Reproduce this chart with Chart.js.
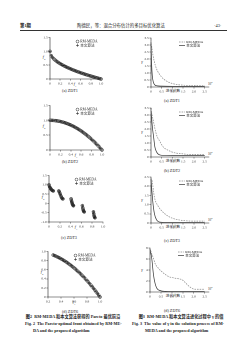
<!DOCTYPE html>
<html><head><meta charset="utf-8">
<script src="https://cdn.jsdelivr.net/npm/chart.js@4.4.1/dist/chart.umd.min.js"></script>
<style>
html,body{margin:0;padding:0;background:#fff;}
body{width:250px;height:354px;position:relative;overflow:hidden;font-family:"Liberation Serif","Noto Sans CJK SC",serif;color:#222;}
canvas.c{position:absolute;}
.t{position:absolute;white-space:nowrap;line-height:1;}
.m{transform:translate(-50%,-50%);}
.b{font-weight:bold;}
.i{font-style:italic;}
.rule{position:absolute;left:20px;top:30px;width:207px;height:0;border-top:0.6px solid #333;}
.j{text-align:justify;text-align-last:justify;}
</style></head><body>
<div class="t b" style="left:20px;top:23.5px;font-size:4.4px;">第1期</div>
<div class="t m" style="left:121px;top:26px;font-size:4.4px;">陶德民，等：混合分布估计的多目标优化算法</div>
<div class="t" style="left:214px;top:23.5px;font-size:4.4px;">·43·</div>
<div class="rule"></div>

<div class="t m" style="left:70px;top:91px;font-size:4.2px;">(a) ZDT1</div>
<div class="t m" style="left:70px;top:162px;font-size:4.2px;">(b) ZDT2</div>
<div class="t m" style="left:69px;top:238px;font-size:4.2px;">(c) ZDT3</div>
<div class="t m" style="left:70px;top:312px;font-size:4.2px;">(d) ZDT6</div>

<div class="t m" style="left:172px;top:101px;font-size:4.2px;">(a) ZDT1</div>
<div class="t m" style="left:172px;top:171px;font-size:4.2px;">(b) ZDT2</div>
<div class="t m" style="left:172px;top:241px;font-size:4.2px;">(c) ZDT3</div>
<div class="t m" style="left:172px;top:311px;font-size:4.2px;">(d) ZDT6</div>

<div class="t m i" style="left:44px;top:58px;font-size:4px;">f<sub style="font-size:2.6px">2</sub></div>
<div class="t m i" style="left:75px;top:85px;font-size:4px;">f<sub style="font-size:2.6px">1</sub></div>
<div class="t m i" style="left:44px;top:127px;font-size:4px;">f<sub style="font-size:2.6px">2</sub></div>
<div class="t m i" style="left:76px;top:156px;font-size:4px;">f<sub style="font-size:2.6px">1</sub></div>
<div class="t m i" style="left:43px;top:198px;font-size:4px;">f<sub style="font-size:2.6px">2</sub></div>
<div class="t m i" style="left:76px;top:228px;font-size:4px;">f<sub style="font-size:2.6px">1</sub></div>
<div class="t m i" style="left:42px;top:273px;font-size:4px;">f<sub style="font-size:2.6px">2</sub></div>
<div class="t m i" style="left:74px;top:303px;font-size:4px;">f<sub style="font-size:2.6px">1</sub></div>

<div class="t m i" style="left:142px;top:62px;font-size:4.2px;">γ</div>
<div class="t m i" style="left:142px;top:132px;font-size:4.2px;">γ</div>
<div class="t m i" style="left:142px;top:200px;font-size:4.2px;">γ</div>
<div class="t m i" style="left:142px;top:270px;font-size:4.2px;">γ</div>
<div class="t m" style="left:173px;top:92px;font-size:3.6px;">进化代数</div>
<div class="t m" style="left:173px;top:162px;font-size:3.6px;">进化代数</div>
<div class="t m" style="left:173px;top:228px;font-size:3.6px;">进化代数</div>
<div class="t m" style="left:173px;top:297px;font-size:3.6px;">进化代数</div>
<div class="t" style="left:208px;top:81px;font-size:3.2px;">10<sup style="font-size:2.2px">4</sup></div>
<div class="t" style="left:208px;top:151px;font-size:3.2px;">10<sup style="font-size:2.2px">4</sup></div>
<div class="t" style="left:208px;top:217px;font-size:3.2px;">10<sup style="font-size:2.2px">4</sup></div>
<div class="t" style="left:208px;top:286px;font-size:3.2px;">10<sup style="font-size:2.2px">4</sup></div>

<div class="t m b" style="left:73px;top:317px;font-size:4.2px;">图2&nbsp; RM-MEDA 和本文算法获得的 Pareto 最优前沿</div>
<div class="t b j" style="left:25px;top:322px;width:95px;font-size:4.2px;">Fig. 2&nbsp; The Pareto-optimal front obtained by RM-ME-</div>
<div class="t b" style="left:33px;top:329px;font-size:4.2px;">DA and the proposed algorithm</div>
<div class="t m b" style="left:181px;top:317px;font-size:4.2px;">图3&nbsp; RM-MEDA 和本文算法进化过程中 γ 的值</div>
<div class="t b j" style="left:132px;top:322px;width:92px;font-size:4.2px;">Fig. 3&nbsp; The value of γ in the solution process of RM-</div>
<div class="t b" style="left:145px;top:329px;font-size:4.2px;">MEDA and the proposed algorithm</div>

<script>
// ---------- data ----------
// left column: Pareto fronts (f1, f2)
const zdt1F1 = [0,0.025,0.05,0.075,0.1,0.125,0.15,0.175,0.2,0.225,0.25,0.275,0.3,0.325,0.35,0.375,0.4,0.425,0.45,0.475,0.5,0.525,0.55,0.575,0.6,0.625,0.65,0.675,0.7,0.725,0.75,0.775,0.8,0.825,0.85,0.875,0.9,0.925,0.95,0.975,1.0];
const zdt1RmF2 = [1.000,0.842,0.776,0.726,0.684,0.646,0.613,0.582,0.553,0.526,0.500,0.476,0.452,0.430,0.408,0.388,0.368,0.348,0.329,0.311,0.293,0.275,0.258,0.242,0.225,0.209,0.194,0.178,0.163,0.149,0.134,0.120,0.106,0.092,0.078,0.065,0.051,0.038,0.025,0.013,0.000];
const zdt1OursF2 = [1.002,0.845,0.774,0.728,0.682,0.648,0.611,0.584,0.551,0.528,0.498,0.478,0.450,0.432,0.406,0.390,0.366,0.350,0.327,0.313,0.291,0.277,0.256,0.244,0.223,0.211,0.192,0.180,0.161,0.151,0.132,0.122,0.104,0.094,0.076,0.067,0.049,0.040,0.023,0.015,0.002];

const zdt2F1 = [0,0.025,0.05,0.075,0.1,0.125,0.15,0.175,0.2,0.225,0.25,0.275,0.3,0.325,0.35,0.375,0.4,0.425,0.45,0.475,0.5,0.525,0.55,0.575,0.6,0.625,0.65,0.675,0.7,0.725,0.75,0.775,0.8,0.825,0.85,0.875,0.9,0.925,0.95,0.975,1.0];
const zdt2RmF2 = [1.000,0.999,0.998,0.994,0.990,0.984,0.978,0.969,0.960,0.949,0.938,0.924,0.910,0.894,0.878,0.859,0.840,0.819,0.798,0.774,0.750,0.724,0.698,0.669,0.640,0.609,0.578,0.544,0.510,0.474,0.438,0.399,0.360,0.319,0.278,0.234,0.190,0.144,0.098,0.049,0.000];
const zdt2OursF2 = [1.002,1.000,0.996,0.995,0.988,0.985,0.976,0.970,0.958,0.950,0.936,0.925,0.908,0.895,0.876,0.860,0.838,0.820,0.796,0.775,0.748,0.725,0.696,0.670,0.638,0.610,0.576,0.545,0.508,0.475,0.436,0.400,0.358,0.320,0.276,0.235,0.188,0.145,0.096,0.050,0.002];

const zdt3F1 = [0,0.01,0.02,0.03,0.04,0.05,0.06,0.07,0.08,0.182,0.19,0.2,0.21,0.22,0.23,0.24,0.25,0.258,0.409,0.415,0.42,0.425,0.43,0.435,0.44,0.45,0.454,0.618,0.625,0.63,0.635,0.64,0.645,0.653,0.823,0.828,0.834,0.84,0.846,0.852];
const zdt3RmF2 = [1.000,0.897,0.847,0.803,0.762,0.726,0.698,0.679,0.670,0.671,0.623,0.553,0.477,0.402,0.334,0.282,0.250,0.242,0.246,0.168,0.105,0.048,-0.004,-0.047,-0.082,-0.121,-0.124,-0.117,-0.232,-0.304,-0.363,-0.409,-0.440,-0.458,-0.451,-0.548,-0.644,-0.716,-0.759,-0.773];
const zdt3OursF2 = [1.004,0.900,0.844,0.806,0.759,0.729,0.695,0.682,0.667,0.674,0.620,0.556,0.474,0.405,0.331,0.285,0.247,0.245,0.249,0.165,0.108,0.045,-0.001,-0.050,-0.079,-0.124,-0.121,-0.114,-0.235,-0.301,-0.366,-0.406,-0.443,-0.455,-0.448,-0.551,-0.641,-0.719,-0.756,-0.776];

const zdt6F1 = [0.28,0.30,0.32,0.34,0.36,0.38,0.40,0.42,0.44,0.46,0.48,0.50,0.52,0.54,0.56,0.58,0.60,0.62,0.64,0.66,0.68,0.70,0.72,0.74,0.76,0.78,0.80,0.82,0.84,0.86,0.88,0.90,0.92,0.94,0.96,0.98,1.00];
const zdt6RmF2 = [0.922,0.910,0.898,0.884,0.870,0.856,0.840,0.824,0.806,0.788,0.770,0.750,0.730,0.708,0.686,0.664,0.640,0.616,0.590,0.564,0.538,0.510,0.482,0.452,0.422,0.392,0.360,0.328,0.294,0.260,0.226,0.190,0.154,0.116,0.078,0.040,0.000];
const zdt6OursF2 = [0.924,0.908,0.900,0.882,0.872,0.854,0.842,0.822,0.808,0.786,0.772,0.748,0.732,0.706,0.688,0.662,0.642,0.614,0.592,0.562,0.540,0.508,0.484,0.450,0.424,0.390,0.362,0.326,0.296,0.258,0.228,0.188,0.156,0.114,0.080,0.038,0.002];

// right column: gamma vs. generation (x10^4)
const zdt1GenRm = [0,0.05,0.1,0.15,0.2,0.3,0.4,0.5,0.6,0.8,1.0,1.2,1.5,2.0,2.5];
const zdt1GammaRm = [3.3,2.7,2.2,1.85,1.55,1.15,0.9,0.7,0.55,0.36,0.25,0.18,0.13,0.1,0.09];
const zdt1GenOurs = [0,0.03,0.06,0.1,0.15,0.2,0.3,0.5,1.0,1.5,2.0,2.5];
const zdt1GammaOurs = [3.2,1.6,0.8,0.4,0.2,0.12,0.08,0.06,0.05,0.05,0.05,0.05];

const zdt2GenRm = [0,0.05,0.1,0.18,0.26,0.42,0.57,0.8,1.1,1.4,1.9,2.5];
const zdt2GammaRm = [3.4,3.0,2.65,2.05,1.57,1.09,0.72,0.48,0.3,0.24,0.17,0.17];
const zdt2GenOurs = [0,0.06,0.12,0.18,0.26,0.34,0.5,1.0,1.5,2.0,2.5];
const zdt2GammaOurs = [3.5,2.2,1.45,0.72,0.36,0.2,0.12,0.1,0.1,0.1,0.1];

const zdt3GenRm = [0,0.05,0.16,0.31,0.55,0.86,1.17,1.64,2.0,2.5];
const zdt3GammaRm = [2.45,2.3,1.4,0.96,0.6,0.33,0.2,0.12,0.1,0.1];
const zdt3GenOurs = [0,0.08,0.16,0.27,0.4,0.7,1.0,1.5,2.0,2.5];
const zdt3GammaOurs = [2.4,1.2,0.5,0.15,0.05,0.03,0.03,0.03,0.03,0.03];

const zdt6GenRm = [0,0.05,0.16,0.23,0.39,0.63,0.86,1.17,1.48,1.64,1.8,1.95,2.1,2.5];
const zdt6GammaRm = [8.0,7.3,6.1,5.2,4.3,3.4,2.8,2.5,2.2,1.6,1.0,0.6,0.5,0.5];
const zdt6GenOurs = [0,0.08,0.16,0.23,0.31,0.47,0.7,1.0,1.5,2.0,2.5];
const zdt6GammaOurs = [7.9,6.1,3.1,1.6,0.7,0.25,0.12,0.1,0.1,0.1,0.1];

// tick labels
const leftXLabels = ['0','0.2','0.4','0.6','0.8','1.0'];
const zdt1YLabels = ['0','0.5','1.0','1.5'];
const zdt2YLabels = ['0','0.5','1.0','1.5'];
const zdt3YLabels = ['-1.0','-0.5','0','0.5','1.0','1.5'];
const zdt6XLabels = ['0.2','0.4','0.6','0.8','1.0'];
const zdt6YLabels = ['0','0.2','0.4','0.6','0.8','1.0'];
const genLabels = ['0','0.5','1.0','1.5','2.0','2.5'];
const gammaLabelsA = ['0','0.5','1.0','1.5','2.0','2.5','3.0','3.5'];
const gammaLabelsB = ['0','0.5','1.0','1.5','2.0','2.5','3.0','3.5'];
const gammaLabelsC = ['0','0.5','1.0','1.5','2.0','2.5'];
const gammaLabelsD = ['0','2','4','6','8'];
const seriesNames = ['RM-MEDA','本文算法'];

// ---------- rendering ----------
const FONT = '"Liberation Serif","Noto Sans CJK SC",serif';
Chart.defaults.font.family = FONT;
Chart.defaults.font.size = 3.6;
Chart.defaults.color = '#333';
Chart.defaults.animation = false;

const YW = 14, XH = 6, PT = 3, PR = 6;

const miniLegend = {
  id: 'miniLegend',
  afterDraw(chart, args, o) {
    if (!o || o.dx === undefined) return;
    const {ctx, chartArea: a} = chart;
    ctx.save();
    ctx.font = o.size + 'px ' + FONT;
    ctx.textBaseline = 'middle';
    chart.data.datasets.forEach((ds, i) => {
      const x = a.left + o.dx, y = a.top + o.dy + i * o.gap;
      ctx.strokeStyle = ds.borderColor;
      ctx.lineWidth = ds.borderWidth || 0.6;
      ctx.beginPath();
      if (ds.showLine) {
        ctx.setLineDash(ds.borderDash || []);
        ctx.moveTo(x, y); ctx.lineTo(x + o.len, y); ctx.stroke();
        ctx.setLineDash([]);
      } else if (ds.pointStyle === 'cross') {
        const r = ds.pointRadius;
        ctx.moveTo(x + o.len/2 - r, y); ctx.lineTo(x + o.len/2 + r, y);
        ctx.moveTo(x + o.len/2, y - r); ctx.lineTo(x + o.len/2, y + r);
        ctx.stroke();
      } else {
        ctx.arc(x + o.len/2, y, ds.pointRadius, 0, Math.PI*2); ctx.stroke();
      }
      ctx.fillStyle = '#222';
      ctx.fillText(ds.label, x + o.len + 1.2, y);
    });
    ctx.restore();
  }
};

function place(box) {
  const c = document.createElement('canvas');
  const L = box[0] - YW, T = box[1] - PT, W = box[2] + PR - L, H = box[3] + XH - T;
  c.width = W; c.height = H; c.className = 'c';
  c.style.left = L + 'px'; c.style.top = T + 'px';
  c.style.width = W + 'px'; c.style.height = H + 'px';
  document.body.appendChild(c);
  return c;
}

function axis(min, max, labels, isX) {
  return {
    type: 'linear', min, max,
    grid: {display: true, drawOnChartArea: false, drawTicks: true, tickLength: 1.5, color: '#222', lineWidth: 0.5},
    border: {display: true, color: '#222', width: 0.6},
    ticks: {padding: 0.8, font: {size: 3.5}, color: '#333', maxRotation: 0, autoSkip: false, includeBounds: false,
            callback: (v, i) => labels[i]},
    afterBuildTicks: s => { s.ticks = labels.map(l => ({value: Number(l)})); },
    afterFit: s => {
      if (isX) s.height = XH; else s.width = YW;
      s.paddingLeft = 0; s.paddingRight = 0; s.paddingTop = 0; s.paddingBottom = 0;
    }
  };
}

function pts(xs, ys) { return xs.map((x, i) => ({x, y: ys[i]})); }

function frontChart(box, f1, rm, ours, xr, yr, xl, yl) {
  new Chart(place(box), {
    type: 'scatter',
    data: {datasets: [
      {label: seriesNames[0], data: pts(f1, rm), pointStyle: 'circle', pointRadius: 1.5, pointBorderWidth: 0.5,
       borderColor: '#333', borderWidth: 0.5, backgroundColor: 'rgba(255,255,255,0)', clip: false},
      {label: seriesNames[1], data: pts(f1, ours), pointStyle: 'cross', pointRadius: 1.5, pointBorderWidth: 0.5,
       borderColor: '#111', borderWidth: 0.5, backgroundColor: 'rgba(0,0,0,0)', clip: false}
    ]},
    options: {
      responsive: false, devicePixelRatio: 2,
      layout: {padding: {top: PT, right: PR, left: 0, bottom: 0}},
      plugins: {legend: {display: false}, tooltip: {enabled: false},
                miniLegend: {dx: 26, dy: 4, gap: 3.8, len: 3, size: 3.6}},
      scales: {x: axis(xr[0], xr[1], xl, true), y: axis(yr[0], yr[1], yl, false)}
    },
    plugins: [miniLegend]
  });
}

function gammaChart(box, gr, rm, go, ours, ymax, yl) {
  new Chart(place(box), {
    type: 'scatter',
    data: {datasets: [
      {label: seriesNames[0], data: pts(gr, rm), showLine: true, pointRadius: 0, borderColor: '#8a8a8a',
       borderWidth: 0.7, borderDash: [1.6, 1], cubicInterpolationMode: 'monotone', clip: false},
      {label: seriesNames[1], data: pts(go, ours), showLine: true, pointRadius: 0, borderColor: '#333',
       borderWidth: 0.7, cubicInterpolationMode: 'monotone', clip: false}
    ]},
    options: {
      responsive: false, devicePixelRatio: 2,
      layout: {padding: {top: PT, right: PR, left: 0, bottom: 0}},
      plugins: {legend: {display: false}, tooltip: {enabled: false},
                miniLegend: {dx: 28, dy: 4, gap: 3.6, len: 6, size: 3.5}},
      scales: {x: axis(0, 2.7, genLabels, true), y: axis(0, ymax, yl, false)}
    },
    plugins: [miniLegend]
  });
}

frontChart([50, 36, 101, 79], zdt1F1, zdt1RmF2, zdt1OursF2, [0, 1], [0, 1.5], leftXLabels, zdt1YLabels);
frontChart([50, 104, 102, 150], zdt2F1, zdt2RmF2, zdt2OursF2, [0, 1], [0, 1.5], leftXLabels, zdt2YLabels);
frontChart([49, 174, 103, 222], zdt3F1, zdt3RmF2, zdt3OursF2, [0, 1], [-1, 1.5], leftXLabels, zdt3YLabels);
frontChart([48, 250, 100, 297], zdt6F1, zdt6RmF2, zdt6OursF2, [0.2, 1], [0, 1], zdt6XLabels, zdt6YLabels);

gammaChart([151, 38, 209, 87], zdt1GenRm, zdt1GammaRm, zdt1GenOurs, zdt1GammaOurs, 3.5, gammaLabelsA);
gammaChart([151, 108, 209, 157], zdt2GenRm, zdt2GammaRm, zdt2GenOurs, zdt2GammaOurs, 3.5, gammaLabelsB);
gammaChart([151, 177, 209, 223], zdt3GenRm, zdt3GammaRm, zdt3GenOurs, zdt3GammaOurs, 2.5, gammaLabelsC);
gammaChart([150, 248, 209, 292], zdt6GenRm, zdt6GammaRm, zdt6GenOurs, zdt6GammaOurs, 8, gammaLabelsD);
</script>
</body></html>
